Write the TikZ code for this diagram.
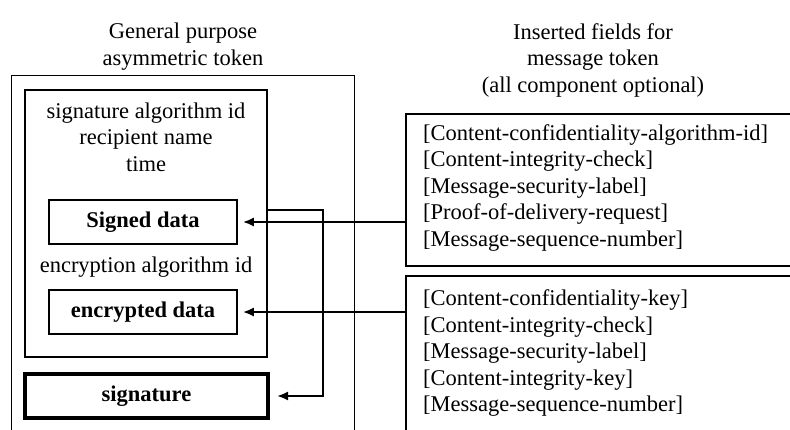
\documentclass[tikz,border=0pt]{standalone}
\usepackage{fontspec}
\setmainfont{Liberation Serif}
\usetikzlibrary{arrows.meta,positioning,calc}
\newcommand{\tokfont}{\fontsize{22.5}{26.5}\selectfont}
\tikzset{
  box/.style={draw=black,line width=1.2pt,align=center,inner sep=0pt},
  databox/.style={box,line width=1.6pt,font=\tokfont\bfseries,minimum width=188pt,minimum height=44pt},
  sigbox/.style={box,line width=4pt,font=\tokfont\bfseries,minimum width=243pt,minimum height=44pt},
  fieldbox/.style={draw=black,line width=2pt,anchor=north west,minimum width=420pt,inner sep=0pt},
  fields/.style={align=left,anchor=west,inner sep=0pt},
  lbl/.style={align=center,inner sep=0pt},
  arr/.style={-{Latex[length=11pt,width=9pt]},line width=2pt},
}
\begin{document}
\begin{tikzpicture}[x=1pt,y=-1pt,font=\tokfont]
  \clip (0,0) rectangle (790,429);

  % --- headings ---
  \node[lbl] (ttlL) at (183,46.5) {General purpose\\asymmetric token};
  \node[lbl] (ttlR) at (593,60) {Inserted fields for\\message token\\(all component optional)};

  % --- token (runs off the bottom edge) ---
  \node[box, anchor=north west, minimum width=343pt, minimum height=400pt] (token) at (11,75) {};
  \node[box, minimum width=242pt, minimum height=267pt] (inner) at (146,223.5) {};

  \node[lbl] (sigalg) at (146,137) {signature algorithm id\\recipient name\\time};
  \node[databox] (signed) at (143,222) {Signed data};
  \node[lbl] (encalg) at (146,267) {encryption algorithm id};
  \node[databox] (encdata) at (143,312) {encrypted data};
  \node[sigbox] (sig) at (146.5,396) {signature};

  % --- inserted fields (open to the right) ---
  \node[fieldbox, minimum height=152pt] (frm1) at (405,113) {};
  \node[fieldbox, minimum height=200pt] (frm2) at (405,275) {};

  \node[fields] (flds1) at (423,188) {[Content-confidentiality-algorithm-id]\\{}[Content-integrity-check]\\{}[Message-security-label]\\{}[Proof-of-delivery-request]\\{}[Message-sequence-number]};
  \node[fields] (flds2) at (423,353) {[Content-confidentiality-key]\\{}[Content-integrity-check]\\{}[Message-security-label]\\{}[Content-integrity-key]\\{}[Message-sequence-number]};

  \draw[arr, shorten >=5pt] (signed.east -| frm1.west) -- (signed.east);
  \draw[arr, shorten >=5pt] (encdata.east -| frm2.west) -- (encdata.east);

  % signed part feeds the signature
  \draw[arr, shorten >=7pt] ([yshift=13.5pt]inner.east) -- ++(55,0) |- (sig.east);
\end{tikzpicture}
\end{document}
